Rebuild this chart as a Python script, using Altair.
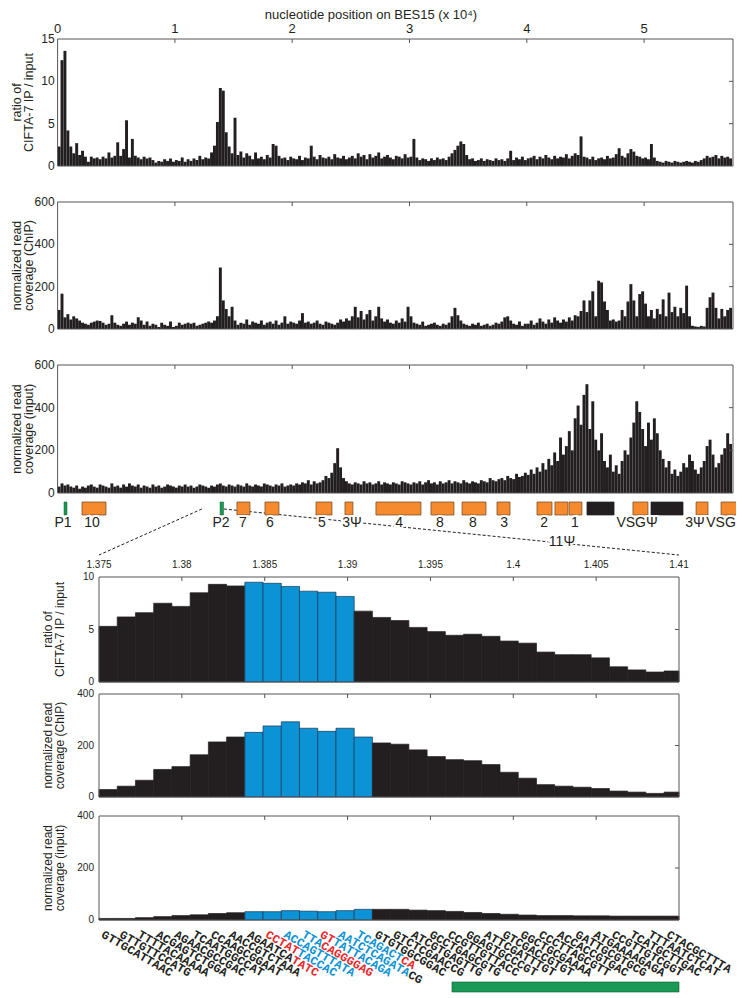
import math
import altair as alt
import pandas as pd

# ---------------- data: whole BES15, 250-nt bins ----------------
BIN_NT = 250
RATIO = [
    2.3, 12.5, 13.6, 4.2, 2.3, 1.5, 2.7, 1.3, 1.8, 1.1, 0.5, 1.1, 0.9, 1.0, 0.8, 1.1, 0.9, 1.6, 1.0, 1.2,
    2.8, 1.2, 2.0, 5.4, 1.0, 3.2, 1.2, 1.0, 0.8, 1.1, 0.9, 1.0, 0.7, 0.4, 0.6, 0.5, 0.8, 0.6, 0.9, 0.5,
    0.7, 0.6, 1.0, 0.5, 0.8, 0.6, 0.9, 0.7, 1.2, 0.8, 1.0, 0.9, 1.6, 2.4, 5.2, 9.2, 8.9, 4.0, 2.3, 1.5,
    5.7, 1.3, 1.7, 1.0, 1.5, 1.2, 0.8, 1.6, 0.9, 1.1, 0.8, 1.3, 1.0, 2.6, 2.4, 1.2, 0.9, 1.0, 0.7, 1.1,
    0.9, 0.8, 1.2, 0.7, 1.0, 0.9, 2.4, 1.1, 0.8, 1.3, 1.0, 0.9, 1.1, 0.8, 1.4, 1.0, 0.9, 1.2, 0.8, 1.0,
    1.2, 0.9, 1.5, 1.1, 1.3, 0.8, 1.4, 1.0, 1.2, 1.6, 0.9, 1.1, 1.3, 1.0, 0.8, 1.2, 1.1, 0.9, 1.4, 1.0,
    1.1, 3.2, 1.0, 0.7, 0.9, 0.8, 0.6, 0.9, 0.7, 1.0, 0.8, 0.9, 0.7, 1.1, 1.5, 1.9, 2.4, 2.9, 2.6, 1.3,
    0.8, 0.9, 0.6, 0.7, 0.9, 0.6, 0.8, 0.7, 0.6, 0.9, 0.7, 0.8, 0.6, 0.9, 1.8, 0.7, 1.0, 0.8, 1.1, 0.7,
    0.9, 1.0, 1.2, 0.8, 1.1, 0.9, 1.3, 1.0, 0.8, 1.2, 0.9, 1.1, 1.0, 1.4, 0.9, 1.2, 1.5, 1.3, 3.5, 1.1,
    1.0, 0.8, 1.1, 0.7, 0.9, 1.0, 0.8, 1.2, 0.9, 1.0, 1.4, 2.1, 1.2, 1.0, 1.5, 2.0, 1.7, 1.2, 1.1, 0.9,
    1.0, 0.8, 2.6, 1.0, 0.6, 0.5, 0.4, 0.6, 0.5, 0.4, 0.6, 0.5, 0.4, 0.5, 0.6, 0.5, 0.4, 0.6, 0.5, 0.7,
    0.9, 1.2, 1.0, 1.1, 1.3, 0.9, 1.2, 1.0, 1.1, 0.9,
]
CHIP = [
    90, 167, 55, 70, 45, 60, 50, 40, 30, 25, 20, 30, 35, 40, 38, 30, 20, 25, 65, 30,
    20, 15, 25, 35, 20, 30, 25, 55, 40, 20, 35, 15, 25, 20, 10, 30, 20, 15, 35, 10,
    15, 30, 20, 25, 30, 25, 30, 15, 20, 25, 30, 35, 30, 40, 60, 290, 135, 95, 60, 105,
    40, 20, 30, 25, 45, 20, 35, 30, 25, 40, 20, 30, 35, 25, 40, 20, 30, 60, 25, 35,
    30, 25, 40, 75, 30, 35, 25, 30, 40, 25, 20, 35, 30, 25, 20, 30, 45, 35, 50, 40,
    60, 105, 55, 85, 45, 70, 90, 40, 60, 105, 50, 35, 45, 30, 25, 40, 30, 50, 35, 105,
    60, 30, 25, 20, 35, 15, 20, 25, 30, 20, 15, 25, 20, 30, 60, 100, 65, 40, 25, 20,
    15, 25, 20, 30, 15, 20, 25, 15, 20, 30, 25, 35, 55, 60, 40, 25, 20, 35, 15, 25,
    25, 40, 20, 30, 50, 35, 25, 45, 30, 55, 40, 30, 45, 35, 55, 40, 65, 60, 85, 135,
    80, 135, 178, 60, 228, 220, 130, 90, 40, 45, 35, 40, 90, 60, 130, 212, 135, 60, 165, 178,
    120, 60, 90, 50, 95, 70, 140, 60, 172, 80, 105, 60, 100, 75, 205, 60, 15, 12, 10, 15,
    12, 100, 150, 172, 100, 50, 95, 60, 90, 100,
]
INPUT = [
    30, 45, 35, 40, 30, 25, 35, 20, 30, 25, 35, 40, 30, 25, 40, 35, 30, 25, 45, 30,
    35, 25, 40, 30, 45, 35, 30, 40, 25, 35, 30, 25, 40, 30, 35, 25, 30, 40, 35, 30,
    25, 35, 30, 40, 30, 35, 25, 30, 40, 35, 30, 25, 35, 30, 40, 45, 35, 30, 40, 35,
    30, 40, 35, 30, 45, 35, 30, 40, 35, 30, 45, 40, 35, 30, 40, 35, 45, 30, 35, 40,
    35, 45, 40, 50, 45, 60, 40, 55, 45, 50, 60, 80, 70, 95, 140, 210, 120, 70, 55, 45,
    40, 50, 45, 40, 55, 45, 50, 40, 45, 55, 40, 50, 45, 40, 50, 45, 40, 55, 50, 45,
    40, 50, 45, 55, 40, 50, 60, 45, 50, 40, 55, 45, 50, 60, 45, 55, 50, 45, 60, 50,
    45, 55, 50, 45, 60, 55, 50, 70, 60, 55, 65, 70, 60, 80, 70, 65, 90, 75, 80, 95,
    85, 110, 90, 120, 100, 140, 110, 160, 130, 190, 150, 260, 180, 220, 290, 200, 350, 410, 320, 460,
    510, 300, 430, 250, 200, 280, 150, 120, 180, 100, 130, 90, 150, 200, 180, 260, 330, 430, 380, 300,
    220, 330, 250, 350, 280, 200, 160, 120, 150, 90, 110, 80, 100, 140, 120, 180, 150, 110, 90, 120,
    150, 220, 250, 180, 120, 140, 180, 210, 280, 230,
]
UPPER_TICKS = [0, 10000, 20000, 30000, 40000, 50000]

# genes / promoters along BES15 (nt)
GENE_START = [545, 2080, 13850, 15290, 17680, 22030, 24500, 27140, 31830, 34480, 37460, 40870, 42400, 43600, 45130, 49050, 50590, 54430, 56560]
GENE_END = [800, 4125, 14150, 16400, 18870, 23390, 25180, 30980, 33790, 36520, 38570, 42150, 43500, 44700, 47440, 50330, 53320, 55450, 58000]
GENE_KIND = ["promoter", "gene", "promoter", "gene", "gene", "gene", "gene", "gene", "gene", "gene", "gene", "gene", "gene", "gene", "vsg", "gene", "vsg", "gene", "gene"]
LABEL_TEXT = ["P1", "10", "P2", "7", "6", "5", "3Ψ", "4", "8", "8", "3", "2", "1", "VSGΨ", "3Ψ", "VSG", "11Ψ"]
LABEL_POS = [460, 2930, 13930, 15800, 18100, 22540, 25100, 29110, 32600, 35410, 38060, 41470, 44110, 49400, 54340, 56560, 43000]
LABEL_ROW = [0, 0, 0, 0, 0, 0, 0, 0, 0, 0, 0, 0, 0, 0, 0, 0, 1]
ZOOM_LINE_TOP = [12300, 14180]

# ---------------- data: zoom on P2 region, 11-nt bins ----------------
ZOOM_START = 13750
ZOOM_END = 14100
ZOOM_BIN = 11
Z_RATIO = [5.3, 6.2, 6.6, 7.5, 7.2, 8.5, 9.3, 9.15, 9.5, 9.4, 9.1, 8.65, 8.55, 8.15, 6.75, 6.15,
           5.85, 5.2, 4.8, 4.45, 4.55, 4.35, 3.9, 3.7, 2.85, 2.6, 2.6, 2.3, 1.45, 1.15, 0.95, 1.05]
Z_CHIP = [29, 42, 65, 107, 118, 164, 214, 233, 251, 276, 292, 267, 255, 267, 233, 210,
          205, 183, 157, 145, 141, 126, 96, 73, 48, 42, 38, 33, 23, 19, 14, 19]
Z_INPUT = [6, 6, 9, 13, 17, 20, 25, 28, 32, 32, 36, 34, 32, 36, 41, 41,
           41, 38, 36, 33, 29, 25, 22, 19, 17, 17, 16, 16, 15, 15, 15, 15]
Z_HILITE_RATIO = [8, 9, 10, 11, 12, 13]
Z_HILITE_COV = [8, 9, 10, 11, 12, 13, 14]
SEQS = ["GTTGCATTAAC", "GTTGTTCCATG", "TTTTACAAAAA", "ACGAGTCTGGA", "AGAACGCCGAC", "TCAATGGCCAT",
        "CCAAGCGGAAT", "AACCGTCTAAA", "AGAATCATATC", "CCTATTACCAC", "ACCAGTTTATA", "TTACAGGGGAG",
        "GTTATTACAGA", "AATCTCAGATACG", "TCAGACTCA", "GTGTGGCGGAC", "GTCTCGAACCG", "ATCGTGAGTTG",
        "GCCTGAGCGTG", "CCGTTGTTACC", "GGAGTGCCCGT", "ATTCGATTTGT", "GTCGACCGTGT", "GGCTGCGAAAA",
        "CCCTTAGCGTT", "ACCACCGTGAC", "GATTGCGTGCG", "ATGAAAAGAGA", "CCGTTGTCGGT", "TCATGCTTGAC",
        "TTTAATCTCAT", "CTACGCTTTA"]
SEQ_COLORS = ["kkkkkkkkkkk"] * 8 + ["kkkkkkkrrrr", "rrrrrbbbbbb", "bbbbbbbbbbb", "bbbrrrrrrrr",
                                    "rrbbbbbbbbb", "bbbbbbbbbbbkk", "bbbbbbbrr"] + ["kkkkkkkkkkk"] * 17
GREEN_REGION = [13963, 14100]
ZOOM_TICKS = [13750, 13800, 13850, 13900, 13950, 14000, 14050, 14100]

# ---------------- layout & style ----------------
W, H = 728, 990
UX = (49.6, 725.0)
UDOM = (0, 57580)
UY = {"ratio": (31, 158), "chip": (194, 321), "input": (357, 485)}
LX = (91.0, 671.0)
LY = {"ratio": (569, 674), "chip": (686, 789), "input": (808, 912)}
SANS = "Liberation Sans, Arial, Helvetica, sans-serif"
MONO = "Liberation Mono, Courier New, monospace"
INK = "#231f20"
FRAME = "#555555"
BLUE = "#0b93d5"
RED = "#e8262b"
ORANGE = "#f58a2e"
GREEN = "#1a9a55"
ONE = pd.DataFrame({"a": [0]})


def upper_df(values):
    return pd.DataFrame({"start": [i * BIN_NT for i in range(len(values))],
                         "end": [(i + 1) * BIN_NT for i in range(len(values))],
                         "value": values})


def zoom_df(values, hilite):
    starts = [ZOOM_START + i * ZOOM_BIN for i in range(len(values))]
    return pd.DataFrame({"start": starts,
                         "end": [min(s + ZOOM_BIN, ZOOM_END) for s in starts],
                         "value": values,
                         "hl": [i in hilite for i in range(len(values))]})


def panel(df, xdom, xr, ydom, yr, yticks, title, title_px, xticks, rticks,
          lab_size, title_size, lab_dx=-3, top_labels=None, hilite=False, extra=()):
    xs = alt.Scale(domain=list(xdom), range=list(xr), nice=False, zero=False)
    ys = alt.Scale(domain=list(ydom), range=[yr[1], yr[0]], nice=False, zero=False)
    fill = alt.condition("datum.hl", alt.value(BLUE), alt.value(INK)) if hilite else alt.value(INK)
    stroke = alt.condition("datum.hl", alt.value("#1d3550"), alt.value(INK)) if hilite else alt.value(INK)
    bars = alt.Chart(df).mark_rect(strokeWidth=0.7 if hilite else 0).encode(
        x=alt.X("start:Q", scale=xs, axis=None),
        x2="end:Q",
        y=alt.Y("value:Q", scale=ys, axis=None),
        y2=alt.Y2Datum(ydom[0]),
        fill=fill,
        stroke=stroke,
    )
    frame = alt.Chart(ONE).mark_rect(fillOpacity=0, stroke=FRAME, strokeWidth=1).encode(
        x=alt.XDatum(xdom[0], type="quantitative", scale=xs, axis=None),
        x2=alt.X2Datum(xdom[1]),
        y=alt.YDatum(ydom[0], type="quantitative", scale=ys, axis=None),
        y2=alt.Y2Datum(ydom[1]),
    )
    tticks = alt.Chart(pd.DataFrame({"t": xticks})).mark_rule(color=FRAME, y2Offset=4).encode(
        x=alt.X("t:Q", scale=xs, axis=None),
        y=alt.YDatum(ydom[1], type="quantitative", scale=ys, axis=None),
        y2=alt.Y2Datum(ydom[1]),
    )
    rt = alt.Chart(pd.DataFrame({"t": rticks})).mark_rule(color=FRAME, x2Offset=-4).encode(
        y=alt.Y("t:Q", scale=ys, axis=None),
        x=alt.XDatum(xdom[1], type="quantitative", scale=xs, axis=None),
        x2=alt.X2Datum(xdom[1]),
    )
    ylabels = alt.Chart(pd.DataFrame({"t": yticks})).transform_calculate(
        lab="format(datum.t, 'd')").mark_text(
        font=SANS, fontSize=lab_size, color=INK, align="right", baseline="middle", dx=lab_dx).encode(
        x=alt.XDatum(xdom[0], type="quantitative", scale=xs, axis=None),
        y=alt.Y("t:Q", scale=ys, axis=None),
        text="lab:N",
    )
    ytitle = alt.Chart(ONE).mark_text(
        font=SANS, fontSize=title_size, color=INK, angle=270, align="center", baseline="middle",
        lineHeight=title_size - 0.5).encode(
        x=alt.value(title_px), y=alt.value((yr[0] + yr[1]) / 2), text=alt.value(title))
    layers = [bars, frame, tticks, rt, ylabels, ytitle]
    if top_labels is not None:
        expr, size, vals, ddy = top_labels
        layers.append(alt.Chart(pd.DataFrame({"t": vals})).transform_calculate(
            lab=expr).mark_text(font=SANS, fontSize=size, color=INK, align="center",
                                baseline="bottom", dy=ddy).encode(
            x=alt.X("t:Q", scale=xs, axis=None),
            y=alt.YDatum(ydom[1], type="quantitative", scale=ys, axis=None),
            text="lab:N"))
    for make in extra:
        layers.append(make(xs))
    return alt.layer(*layers)


# ---------------- upper panels ----------------
UTITLE_X = 8.5
p1 = panel(upper_df(RATIO), UDOM, UX, (0, 15), UY["ratio"], [0, 5, 10, 15],
           ["ratio of", "CIFTA-7 IP / input"], UTITLE_X, UPPER_TICKS[1:], [5, 10], 12, 12.5,
           top_labels=("datum.t / 10000", 13, UPPER_TICKS, -3))
p2 = panel(upper_df(CHIP), UDOM, UX, (0, 600), UY["chip"], [0, 200, 400, 600],
           ["normalized read", "coverage (ChIP)"], UTITLE_X, UPPER_TICKS[1:], [200, 400], 12, 12.5)
p3 = panel(upper_df(INPUT), UDOM, UX, (0, 600), UY["input"], [0, 200, 400, 600],
           ["normalized read", "coverage (input)"], UTITLE_X, UPPER_TICKS[1:], [200, 400], 12, 12.5)
top_title = alt.Chart(ONE).mark_text(font=SANS, fontSize=13, color=INK, align="center",
                                     baseline="middle").encode(
    x=alt.value(363), y=alt.value(6.5), text=alt.value("nucleotide position on BES15 (x 10⁴)"))

# ---------------- gene track ----------------
gx = alt.Scale(domain=list(UDOM), range=list(UX), nice=False, zero=False)
genes_df = pd.DataFrame({"start": GENE_START, "end": GENE_END, "kind": GENE_KIND})
lab_df = pd.DataFrame({"text": LABEL_TEXT, "pos": LABEL_POS, "row": LABEL_ROW})
frac = [(LX[0] - UX[0]) / (UX[1] - UX[0]), (LX[1] - UX[0]) / (UX[1] - UX[0])]
zl_df = pd.DataFrame({"xt": ZOOM_LINE_TOP, "xb": [UDOM[0] + f * (UDOM[1] - UDOM[0]) for f in frac]})

zoom_lines = alt.Chart(zl_df).mark_rule(color=INK, strokeDash=[3, 2], strokeWidth=1).encode(
    x=alt.X("xt:Q", scale=gx, axis=None), x2="xb:Q", y=alt.value(501), y2=alt.value(547))
box_kw = dict(x=alt.X("start:Q", scale=gx, axis=None), x2="end:Q", y=alt.value(494), y2=alt.value(507))
orange_boxes = alt.Chart(genes_df).transform_filter(alt.datum.kind == "gene").mark_rect(
    fill=ORANGE, stroke="#6b4320", strokeWidth=0.7).encode(**box_kw)
black_boxes = alt.Chart(genes_df).transform_filter(alt.datum.kind == "vsg").mark_rect(
    fill=INK, stroke=INK, strokeWidth=0.7).encode(**box_kw)
green_boxes = alt.Chart(genes_df).transform_filter(alt.datum.kind == "promoter").mark_rect(
    fill=GREEN, stroke="#0f5a32", strokeWidth=0.5).encode(**box_kw)


def gene_labels(row, ypix):
    base = alt.Chart(lab_df).transform_filter(alt.datum.row == row)
    enc = dict(x=alt.X("pos:Q", scale=gx, axis=None), y=alt.value(ypix), text="text:N")
    halo = base.mark_text(font=SANS, fontSize=14, stroke="white", strokeWidth=4,
                          baseline="middle", align="center").encode(**enc)
    txt = base.mark_text(font=SANS, fontSize=14, color=INK,
                         baseline="middle", align="center").encode(**enc)
    return [halo, txt]


genes = alt.layer(zoom_lines, orange_boxes, black_boxes, green_boxes,
                  *gene_labels(0, 515), *gene_labels(1, 534))


# ---------------- zoomed panels ----------------
def green_bar(xs):
    gdf = pd.DataFrame({"s": [GREEN_REGION[0]], "e": [GREEN_REGION[1]]})
    return alt.Chart(gdf).mark_rect(fill=GREEN, stroke="#0f5a32", strokeWidth=0.6).encode(
        x=alt.X("s:Q", scale=xs, axis=None), x2="e:Q", y=alt.value(974), y2=alt.value(984))


LTITLE_X = 40
low_lab = ("format(datum.t / 10000, '~g')", 10, ZOOM_TICKS, -7)
pa = panel(zoom_df(Z_RATIO, Z_HILITE_RATIO), (ZOOM_START, ZOOM_END), LX, (0, 10), LY["ratio"],
           [0, 5, 10], ["ratio of", "CIFTA-7 IP / input"], LTITLE_X, ZOOM_TICKS[1:-1], [5],
           10, 12, lab_dx=-5, top_labels=low_lab, hilite=True)
pb = panel(zoom_df(Z_CHIP, Z_HILITE_COV), (ZOOM_START, ZOOM_END), LX, (0, 400), LY["chip"],
           [0, 200, 400], ["normalized read", "coverage (ChIP)"], LTITLE_X, ZOOM_TICKS[1:-1], [200],
           10, 12, lab_dx=-5, hilite=True)
pc = panel(zoom_df(Z_INPUT, Z_HILITE_COV), (ZOOM_START, ZOOM_END), LX, (0, 400), LY["input"],
           [0, 200, 400], ["normalized read", "coverage (input)"], LTITLE_X, ZOOM_TICKS[1:-1], [200],
           10, 12, lab_dx=-5, hilite=True, extra=(green_bar,))

# ---------------- sequence labels (one text per base, along a 30° slant) ----------------
ANGLE = 30
CHAR_STEP = 7.3            # px along the slanted baseline
SEQ_TOP = 921              # px, just under the input panel
px_per_nt = (LX[1] - LX[0]) / (ZOOM_END - ZOOM_START)
dx_nt = CHAR_STEP * math.cos(math.radians(ANGLE)) / px_per_nt
dy_px = CHAR_STEP * math.sin(math.radians(ANGLE))
seq_rows = []
for i, (s, m) in enumerate(zip(SEQS, SEQ_COLORS)):
    x0 = ZOOM_START + i * ZOOM_BIN + ZOOM_BIN / 2 - 3 / px_per_nt
    for j, (c, mc) in enumerate(zip(s, m)):
        seq_rows.append({"x": x0 + j * dx_nt, "j": j, "ch": c, "col": mc})
seq_df = pd.DataFrame(seq_rows)
sx = alt.Scale(domain=[ZOOM_START, ZOOM_END], range=list(LX), nice=False, zero=False)
sy = alt.Scale(domain=[0, 1], range=[SEQ_TOP, SEQ_TOP + dy_px], nice=False, zero=False)
seqs = alt.Chart(seq_df).mark_text(font=MONO, fontWeight="bold", fontSize=12, angle=ANGLE,
                                   align="left", baseline="top").encode(
    x=alt.X("x:Q", scale=sx, axis=None),
    y=alt.Y("j:Q", scale=sy, axis=None),
    text="ch:N",
    color=alt.Color("col:N", scale=alt.Scale(domain=["k", "r", "b"], range=[INK, RED, BLUE]),
                    legend=None),
)

chart = alt.layer(p1, p2, p3, top_title, genes, pa, pb, pc, seqs).resolve_scale(
    x="independent", y="independent").properties(
    width=W, height=H, autosize=alt.AutoSizeParams(type="none"), padding=0).configure_view(
    strokeOpacity=0)

chart.save("out.html", embed_options={"renderer": "svg", "actions": False})
